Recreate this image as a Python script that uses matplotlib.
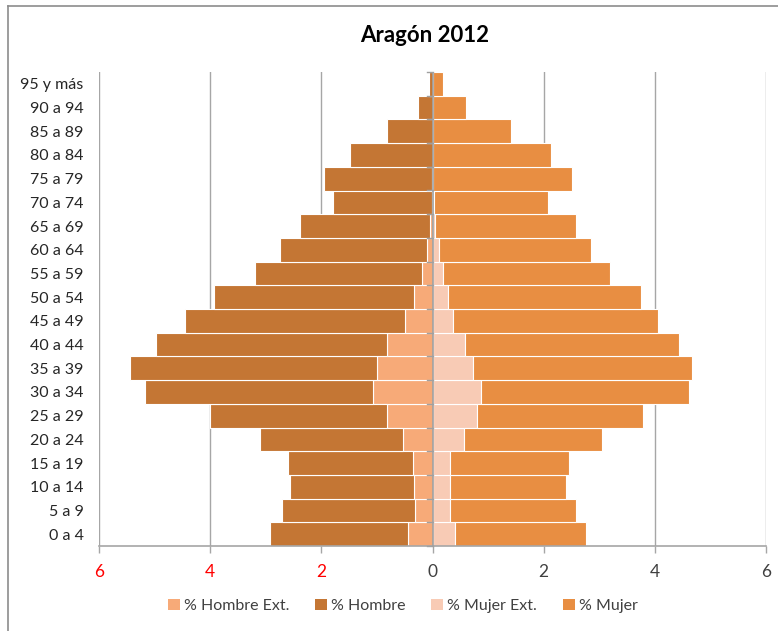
import matplotlib
matplotlib.use("Agg")
import matplotlib.pyplot as plt
from matplotlib.lines import Line2D
from matplotlib.patches import Patch
import numpy as np

plt.rcParams['font.family'] = ['Lato', 'DejaVu Sans']

categories = ["0 a 4", "5 a 9", "10 a 14", "15 a 19", "20 a 24", "25 a 29", "30 a 34",
              "35 a 39", "40 a 44", "45 a 49", "50 a 54", "55 a 59", "60 a 64", "65 a 69",
              "70 a 74", "75 a 79", "80 a 84", "85 a 89", "90 a 94", "95 y más"]

# Totals (percent), bottom (0 a 4) to top (95 y más)
hombre_total = [2.93, 2.71, 2.57, 2.60, 3.11, 4.01, 5.18, 5.44, 4.98, 4.46, 3.94,
                3.20, 2.74, 2.39, 1.79, 1.96, 1.49, 0.81, 0.26, 0.07]
hombre_ext = [0.44, 0.32, 0.34, 0.35, 0.53, 0.81, 1.07, 1.00, 0.81, 0.50, 0.34,
              0.19, 0.10, 0.05, 0.01, 0.01, 0.0, 0.0, 0.0, 0.0]
mujer_total = [2.77, 2.59, 2.41, 2.45, 3.05, 3.79, 4.62, 4.67, 4.43, 4.06, 3.76,
               3.19, 2.85, 2.59, 2.07, 2.51, 2.13, 1.42, 0.61, 0.18]
mujer_ext = [0.41, 0.32, 0.31, 0.31, 0.56, 0.80, 0.87, 0.72, 0.58, 0.37, 0.28,
             0.19, 0.11, 0.04, 0.03, 0.01, 0.0, 0.0, 0.0, 0.0]
tick_values = [-6, -4, -2, 0, 2, 4, 6]
tick_labels = ["6", "4", "2", "0", "2", "4", "6"]
title = "Aragón 2012"
series_names = ["% Hombre Ext.", "% Hombre", "% Mujer Ext.", "% Mujer"]

c_hext = "#F7AA78"
c_h = "#C47634"
c_mext = "#F8CBB5"
c_m = "#E88E42"

hombre = np.array(hombre_total) - np.array(hombre_ext)
mujer = np.array(mujer_total) - np.array(mujer_ext)
hext = np.array(hombre_ext)
mext = np.array(mujer_ext)
y = np.arange(len(categories))

fig = plt.figure(figsize=(7.78, 6.31), dpi=100)
ax = fig.add_axes([99 / 778, 85 / 631, 667 / 778, 474 / 631])

kw = dict(height=1.0, edgecolor="white", linewidth=0.8, zorder=2)
ax.barh(y, -hext, color=c_hext, **kw)
ax.barh(y, -hombre, left=-hext, color=c_h, **kw)
ax.barh(y, mext, color=c_mext, **kw)
ax.barh(y, mujer, left=mext, color=c_m, **kw)

ax.set_xlim(-6, 6)
ax.set_ylim(-0.5, len(categories) - 0.5)

for v in tick_values:
    if v != 0:
        ax.axvline(v, color="#A6A6A6", linewidth=1.0, zorder=1)
ax.axvline(0, color="#A0A0A0", linewidth=1.2, zorder=3)
# small category tick marks on the zero axis
for b in np.arange(-0.5, len(categories), 1.0):
    ax.plot([-0.09, 0], [b, b], color="#A0A0A0", linewidth=1.0, zorder=3, clip_on=False)

for s in ["top", "right", "left"]:
    ax.spines[s].set_visible(False)
ax.spines["bottom"].set_color("#A6A6A6")
ax.spines["bottom"].set_linewidth(1.2)

ax.set_xticks(tick_values)
ax.set_xticklabels(tick_labels, fontsize=12.5)
for lab, v in zip(ax.get_xticklabels(), tick_values):
    lab.set_color("#FF0000" if v < 0 else "#404040")
ax.tick_params(axis="x", length=5, width=1, color="#A6A6A6", pad=8, direction="out")

ax.set_yticks(y)
ax.set_yticklabels(categories, fontsize=11.5, color="#262626")
ax.tick_params(axis="y", length=0, pad=11)

fig.text(425 / 778, 1 - 36 / 631, title, ha="center", va="center",
         fontsize=16, fontweight="bold", color="#000000")

handles = [Patch(facecolor=c_hext), Patch(facecolor=c_h), Patch(facecolor=c_mext), Patch(facecolor=c_m)]
fig.legend(handles, series_names, loc="center", bbox_to_anchor=(403 / 778, 1 - 606 / 631),
           ncol=4, frameon=False, fontsize=11.5, handlelength=0.75, handleheight=0.75,
           handletextpad=0.25, columnspacing=1.6, labelcolor="#404040")

# chart frame
fig.add_artist(Line2D([8 / 778, 8 / 778], [0, 1 - 6 / 631], transform=fig.transFigure,
                      color="#8C8C8C", linewidth=1.2))
fig.add_artist(Line2D([8 / 778, 1], [1 - 6 / 631, 1 - 6 / 631], transform=fig.transFigure,
                      color="#8C8C8C", linewidth=1.2))

fig.savefig("out.png", dpi=100)
